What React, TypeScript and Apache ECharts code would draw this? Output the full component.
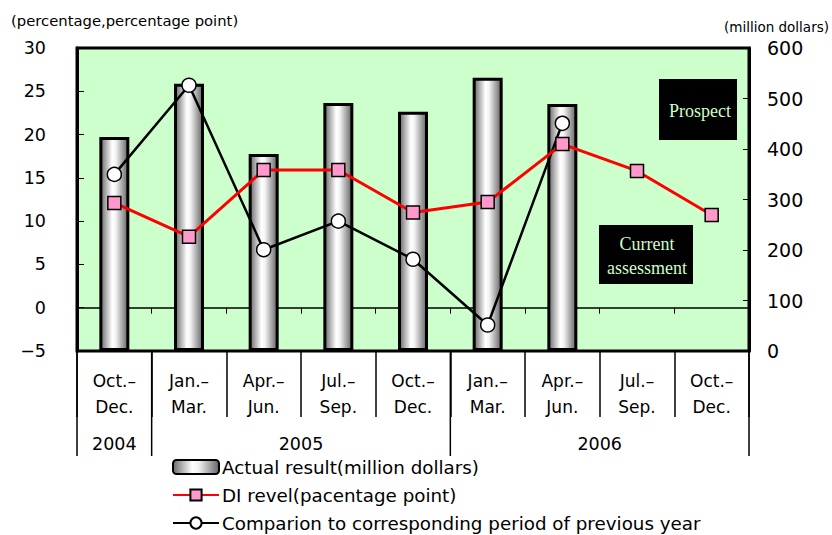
import React, { useEffect, useRef } from "react";
import * as echarts from "echarts";

const categories = [
  "Oct.–\nDec.",
  "Jan.–\nMar.",
  "Apr.–\nJun.",
  "Jul.–\nSep.",
  "Oct.–\nDec.",
  "Jan.–\nMar.",
  "Apr.–\nJun.",
  "Jul.–\nSep.",
  "Oct.–\nDec.",
];
const yearLabels = ["2004", "2005", "2006"];
const yearStart = [0, 1, 5];
const yearEnd = [0, 4, 8];

const actualResult = [424, 529, 390, 491, 474, 541, 489, null, null];
const diLevel = [12.1, 8.2, 15.9, 15.9, 11.0, 12.2, 18.9, 15.8, 10.7];
const comparison = [15.4, 25.7, 6.7, 10.0, 5.6, -2.0, 21.3, null, null];

const leftTicks = { min: -5, max: 30, interval: 5 };
const rightTicks = { min: 0, max: 600, interval: 100 };

const SANS = "DejaVu Sans";
const SERIF = "Liberation Serif";

export default function App() {
  const ref = useRef<HTMLDivElement>(null);
  useEffect(() => {
    if (!ref.current) return;
    const chart = echarts.init(ref.current, undefined, { renderer: "svg" });
    const gridTop = 48;
    const gridBottomPx = 351;
    const option: any = {
      animation: false,
      backgroundColor: "#ffffff",
      grid: {
        left: 77,
        right: 83,
        top: gridTop,
        bottom: 535 - gridBottomPx,
        show: true,
        backgroundColor: "#ccffcc",
        borderColor: "#000",
        borderWidth: 3,
      },
      legend: {
        orient: "vertical",
        left: 172,
        top: 458,
        padding: 0,
        itemWidth: 46,
        itemHeight: 14,
        itemGap: 10,
        selectedMode: false,
        textStyle: { fontFamily: SANS, fontSize: 18.3, color: "#000", padding: [0, 0, 0, -2] },
        data: [
          "Actual result(million dollars)",
          "DI revel(pacentage point)",
          "Comparion to corresponding period of previous year",
        ],
      },
      xAxis: [
        {
          type: "category",
          data: categories,
          boundaryGap: true,
          axisLine: {
            show: true,
            onZero: true,
            onZeroAxisIndex: 0,
            lineStyle: { color: "#000", width: 1.5 },
          },
          axisTick: { show: true, inside: false, length: 6, lineStyle: { color: "#000", width: 1 } },
          axisLabel: { show: false },
          splitLine: { show: false },
        },
        {
          type: "category",
          data: categories,
          position: "bottom",
          boundaryGap: true,
          axisLine: { show: false, onZero: false },
          axisTick: { show: true, inside: false, length: 66, lineStyle: { color: "#000", width: 1.5 } },
          axisLabel: {
            show: true,
            interval: 0,
            margin: 17,
            lineHeight: 26,
            fontFamily: SANS,
            fontSize: 17,
            color: "#000",
          },
          splitLine: { show: false },
        },
      ],
      yAxis: [
        {
          type: "value",
          position: "left",
          min: leftTicks.min,
          max: leftTicks.max,
          interval: leftTicks.interval,
          axisLine: { show: true, lineStyle: { color: "#000", width: 3 } },
          axisTick: { show: true, inside: true, length: 7, lineStyle: { color: "#000", width: 1 } },
          axisLabel: { margin: 31, fontFamily: SANS, fontSize: 17.5, color: "#000", formatter: (v: number) => (v < 0 ? "−" + Math.abs(v) : String(v)) },
          splitLine: { show: false },
        },
        {
          type: "value",
          position: "right",
          min: rightTicks.min,
          max: rightTicks.max,
          interval: rightTicks.interval,
          axisLine: { show: true, lineStyle: { color: "#000", width: 3 } },
          axisTick: { show: true, inside: true, length: 6, lineStyle: { color: "#000", width: 1 } },
          axisLabel: { margin: 18, fontFamily: SANS, fontSize: 19, color: "#000" },
          splitLine: { show: false },
        },
      ],
      series: [
        {
          name: "Actual result(million dollars)",
          type: "bar",
          xAxisIndex: 0,
          yAxisIndex: 1,
          barWidth: 30,
          data: actualResult,
          itemStyle: {
            color: new echarts.graphic.LinearGradient(0, 0, 1, 0, [
              { offset: 0, color: "#6a6a6a" },
              { offset: 0.42, color: "#ffffff" },
              { offset: 0.55, color: "#f4f4f4" },
              { offset: 1, color: "#656565" },
            ]),
            borderColor: "#000",
            borderWidth: 3,
          },
          z: 2,
        },
        {
          name: "Comparion to corresponding period of previous year",
          type: "line",
          xAxisIndex: 0,
          yAxisIndex: 0,
          data: comparison,
          symbol: "circle",
          symbolSize: 14,
          lineStyle: { color: "#000", width: 2.5 },
          itemStyle: { color: "#fff", borderColor: "#000", borderWidth: 1.5 },
          z: 3,
        },
        {
          name: "DI revel(pacentage point)",
          type: "line",
          xAxisIndex: 0,
          yAxisIndex: 0,
          data: diLevel,
          symbol: "rect",
          symbolSize: 13,
          lineStyle: { color: "#ff0000", width: 3 },
          itemStyle: { color: "#ff99cc", borderColor: "#000", borderWidth: 1.5 },
          z: 4,
        },
      ],
    };
    chart.setOption(option);

    const px = (i: number) => chart.convertToPixel({ xAxisIndex: 0 }, i) as number;
    const bw = px(1) - px(0);
    const boundary = (i: number) => px(i) - bw / 2;
    const lineBottom = 456;
    const graphics: any[] = [];
    const sepIdx = [0, ...yearEnd.map((e) => e + 1)];
    sepIdx.forEach((b) => {
      const x = boundary(b);
      graphics.push({
        type: "line",
        shape: { x1: x, y1: gridBottomPx, x2: x, y2: lineBottom },
        style: { stroke: "#000", lineWidth: 1.5 },
        z: 10,
      });
    });
    yearLabels.forEach((lab, k) => {
      const x = (boundary(yearStart[k]) + boundary(yearEnd[k] + 1)) / 2;
      graphics.push({
        type: "text",
        x,
        y: 444,
        style: { text: lab, fontFamily: SANS, fontSize: 17.5, fill: "#000", align: "center", verticalAlign: "middle" },
        z: 10,
      });
    });
    graphics.push(
      {
        type: "text",
        x: 11,
        y: 20,
        style: { text: "(percentage,percentage point)", fontFamily: SANS, fontSize: 14.8, fill: "#000", align: "left", verticalAlign: "middle" },
      },
      {
        type: "text",
        x: 829,
        y: 27,
        style: { text: "(million dollars)", fontFamily: SANS, fontSize: 13.5, fill: "#000", align: "right", verticalAlign: "middle" },
      },
      {
        type: "rect",
        shape: { x: 659, y: 79, width: 78, height: 61 },
        style: { fill: "#000" },
        z: 5,
      },
      {
        type: "text",
        x: 700,
        y: 111,
        style: { text: "Prospect", fontFamily: SERIF, fontSize: 18, fill: "#ccffcc", align: "center", verticalAlign: "middle" },
        z: 6,
      },
      {
        type: "rect",
        shape: { x: 599, y: 225, width: 94, height: 59 },
        style: { fill: "#000" },
        z: 5,
      },
      {
        type: "text",
        x: 647,
        y: 244,
        style: { text: "Current", fontFamily: SERIF, fontSize: 18, fill: "#ccffcc", align: "center", verticalAlign: "middle" },
        z: 6,
      },
      {
        type: "text",
        x: 647,
        y: 268,
        style: { text: "assessment", fontFamily: SERIF, fontSize: 18, fill: "#ccffcc", align: "center", verticalAlign: "middle" },
        z: 6,
      }
    );
    chart.setOption({ graphic: graphics });

    return () => chart.dispose();
  }, []);
  return (
    <div
      ref={ref}
      style={{ position: "fixed", left: 0, top: 0, width: 832, height: 535, background: "#fff" }}
    />
  );
}
